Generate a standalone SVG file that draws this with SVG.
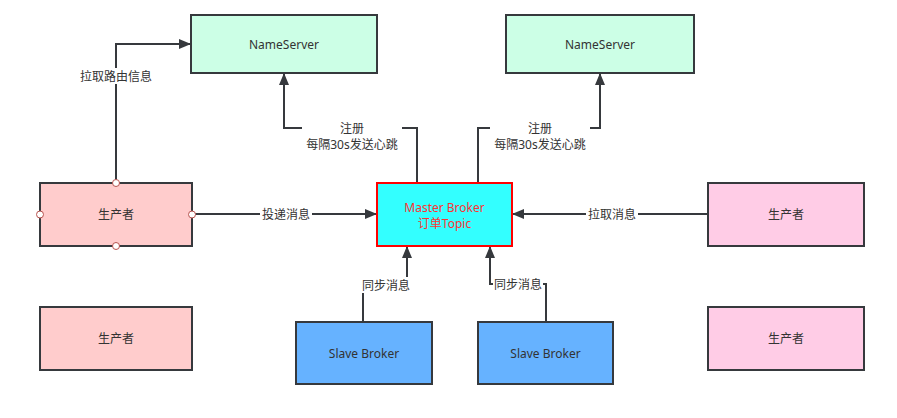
<svg xmlns="http://www.w3.org/2000/svg" width="897" height="418" viewBox="0 0 897 418">
<style>
.n{stroke:#36393d;stroke-width:2}
.t{font-family:"Noto Sans","Noto Sans CJK SC",sans-serif;font-size:12px;fill:#333;text-anchor:middle;dominant-baseline:central}
.e{fill:none;stroke:#36393d;stroke-width:2}
.lb{fill:#fff}
.h{fill:#fff;stroke:#b85450;stroke-width:1}
</style>
<defs>
<marker id="a" viewBox="0 0 12 10" refX="11" refY="5" markerWidth="12" markerHeight="10" markerUnits="userSpaceOnUse" orient="auto">
<path d="M0,0 L12,5 L0,10 Z" fill="#36393d"/>
</marker>
</defs>
<rect width="897" height="418" fill="#fff"/>
<g id="connectors">
<path class="e" d="M116,183 V44 H190" marker-end="url(#a)"/>
<path class="e" d="M192,214 H376" marker-end="url(#a)"/>
<path class="e" d="M417,183 V128 H284 V74" marker-end="url(#a)"/>
<path class="e" d="M478,183 V128 H600 V74" marker-end="url(#a)"/>
<path class="e" d="M708,214 H513" marker-end="url(#a)"/>
<path class="e" d="M363,322 V285 H407 V247" marker-end="url(#a)"/>
<path class="e" d="M546,322 V284 H490 V247" marker-end="url(#a)"/>
<rect class="lb" x="79" y="68" width="74" height="16"/>
<text class="t" x="116" y="76">拉取路由信息</text>
<rect class="lb" x="260" y="206" width="52" height="16"/>
<text class="t" x="286" y="214">投递消息</text>
<rect class="lb" x="302" y="120" width="100" height="32"/>
<text class="t" x="352" y="128">注册</text>
<text class="t" x="352" y="144">每隔30s发送心跳</text>
<rect class="lb" x="490" y="120" width="100" height="32"/>
<text class="t" x="540" y="128">注册</text>
<text class="t" x="540" y="144">每隔30s发送心跳</text>
<rect class="lb" x="586" y="206" width="52" height="16"/>
<text class="t" x="612" y="214">拉取消息</text>
<rect class="lb" x="360" y="277" width="50" height="16"/>
<text class="t" x="386" y="285">同步消息</text>
<rect class="lb" x="493" y="276" width="50" height="16"/>
<text class="t" x="518" y="284">同步消息</text>
</g>
<g id="ns1"><rect class="n" x="191" y="15" width="186" height="58" fill="#ccffe6"/><text class="t" x="284" y="44">NameServer</text></g>
<g id="ns2"><rect class="n" x="506" y="15" width="188" height="58" fill="#ccffe6"/><text class="t" x="600" y="44">NameServer</text></g>
<g id="p1"><rect class="n" x="40" y="183" width="152" height="63" fill="#ffcccc"/><text class="t" x="116" y="214.5">生产者</text>
<circle class="h" cx="116" cy="183" r="3.5"/><circle class="h" cx="116" cy="246" r="3.5"/><circle class="h" cx="40" cy="214.5" r="3.5"/><circle class="h" cx="192" cy="214.5" r="3.5"/></g>
<g id="p2"><rect class="n" x="40" y="307" width="152" height="63" fill="#ffcccc"/><text class="t" x="116" y="338.5">生产者</text></g>
<g id="master"><rect x="377" y="183" width="135" height="63" fill="#33ffff" stroke="#ff0000" stroke-width="2"/><text class="t" x="444.5" y="207" style="fill:#ff3333">Master Broker</text><text class="t" x="444.5" y="223" style="fill:#ff3333">订单Topic</text></g>
<g id="c1"><rect class="n" x="708" y="183" width="156" height="63" fill="#ffcce6"/><text class="t" x="786" y="214.5">生产者</text></g>
<g id="c2"><rect class="n" x="708" y="307" width="156" height="63" fill="#ffcce6"/><text class="t" x="786" y="338.5">生产者</text></g>
<g id="s1"><rect class="n" x="296" y="322" width="136" height="62" fill="#66b2ff"/><text class="t" x="364" y="353">Slave Broker</text></g>
<g id="s2"><rect class="n" x="478" y="322" width="135" height="62" fill="#66b2ff"/><text class="t" x="545.5" y="353">Slave Broker</text></g>
</svg>
